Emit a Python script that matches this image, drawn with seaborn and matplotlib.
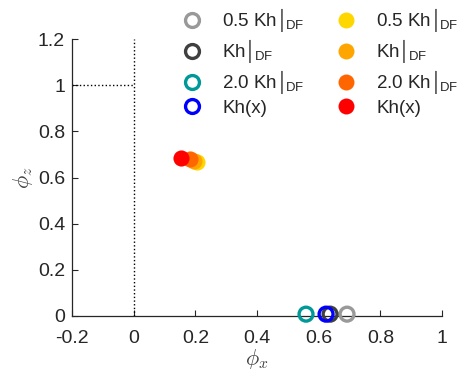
import matplotlib
matplotlib.use("Agg")
import matplotlib.pyplot as plt
from matplotlib.lines import Line2D
import seaborn as sns

# Open-circle series (phi_x, phi_z)
open_labels = ["0.5 Kh\u2502$\\!{}_{\\mathrm{DF}}$", "Kh\u2502$\\!{}_{\\mathrm{DF}}$",
               "2.0 Kh\u2502$\\!{}_{\\mathrm{DF}}$", "Kh(x)"]
open_x = [0.692, 0.637, 0.559, 0.624]
open_z = [0.008, 0.008, 0.008, 0.008]
open_colors = ["#999999", "#404040", "#009999", "#0000ff"]

# Filled-dot series (phi_x, phi_z)
fill_labels = ["0.5 Kh\u2502$\\!{}_{\\mathrm{DF}}$", "Kh\u2502$\\!{}_{\\mathrm{DF}}$",
               "2.0 Kh\u2502$\\!{}_{\\mathrm{DF}}$", "Kh(x)"]
fill_x = [0.205, 0.196, 0.183, 0.154]
fill_z = [0.667, 0.672, 0.680, 0.685]
fill_colors = ["#ffd700", "#ffa500", "#ff6600", "#ff0000"]

x_ticks = [-0.2, 0, 0.2, 0.4, 0.6, 0.8, 1]
x_ticklabels = ["-0.2", "0", "0.2", "0.4", "0.6", "0.8", "1"]
y_ticks = [0, 0.2, 0.4, 0.6, 0.8, 1, 1.2]
y_ticklabels = ["0", "0.2", "0.4", "0.6", "0.8", "1", "1.2"]

sns.set_style("ticks")
plt.rcParams["font.family"] = ["Liberation Sans", "DejaVu Sans"]
plt.rcParams["mathtext.fontset"] = "custom"
plt.rcParams["mathtext.rm"] = "Liberation Sans"
plt.rcParams["mathtext.it"] = "Liberation Sans:italic"
plt.rcParams["mathtext.sf"] = "Liberation Sans"
plt.rcParams["xtick.direction"] = "in"
plt.rcParams["ytick.direction"] = "in"

fig = plt.figure(figsize=(4.58, 3.72), dpi=100)
ax = fig.add_axes([72 / 458, 56 / 372, 370 / 458, 277 / 372])

# Reference guides
ax.plot([0, 0], [0, 1.2], ls=":", color="black", lw=1.0)
ax.plot([-0.2, 0], [1, 1], ls=":", color="black", lw=1.0)

for x, z, c in zip(open_x, open_z, open_colors):
    sns.scatterplot(x=[x], y=[z], ax=ax, s=100, facecolors="none",
                    edgecolor=c, linewidth=2.4, clip_on=False, zorder=3)
for x, z, c in zip(fill_x, fill_z, fill_colors):
    sns.scatterplot(x=[x], y=[z], ax=ax, s=135, color=c,
                    linewidth=0, clip_on=False, zorder=3)

ax.set_xlim(-0.2, 1)
ax.set_ylim(0, 1.2)
ax.set_xticks(x_ticks)
ax.set_xticklabels(x_ticklabels)
ax.set_yticks(y_ticks)
ax.set_yticklabels(y_ticklabels)
ax.tick_params(labelsize=14, colors="#262626", length=4, width=0.8)
ax.tick_params(axis="x", pad=10)
ax.tick_params(axis="y", pad=5)
for s in ["top", "right"]:
    ax.spines[s].set_visible(False)
for s in ["left", "bottom"]:
    ax.spines[s].set_color("#262626")
    ax.spines[s].set_linewidth(0.9)

ax.set_xlabel(r"$\phi_x$", fontsize=16, color="#404040", math_fontfamily="cm", labelpad=0)
ax.set_ylabel(r"$\phi_z$", fontsize=16, color="#404040", math_fontfamily="cm", labelpad=2)

handles = []
labels = []
for lab, c in zip(open_labels, open_colors):
    handles.append(Line2D([], [], ls="", marker="o", markersize=10,
                          markerfacecolor="none", markeredgecolor=c, markeredgewidth=2.4))
    labels.append(lab)
for lab, c in zip(fill_labels, fill_colors):
    handles.append(Line2D([], [], ls="", marker="o", markersize=11.5,
                          markerfacecolor=c, markeredgewidth=0))
    labels.append(lab)

leg = fig.legend(handles, labels, ncol=2, frameon=False, fontsize=13.5,
                 loc="upper left", bbox_to_anchor=(168 / 458, 1 + 7 / 372),
                 handlelength=1.2, handletextpad=1.0, columnspacing=1.6,
                 labelspacing=0.17, borderpad=0.2)

fig.savefig("out.png", dpi=100)
